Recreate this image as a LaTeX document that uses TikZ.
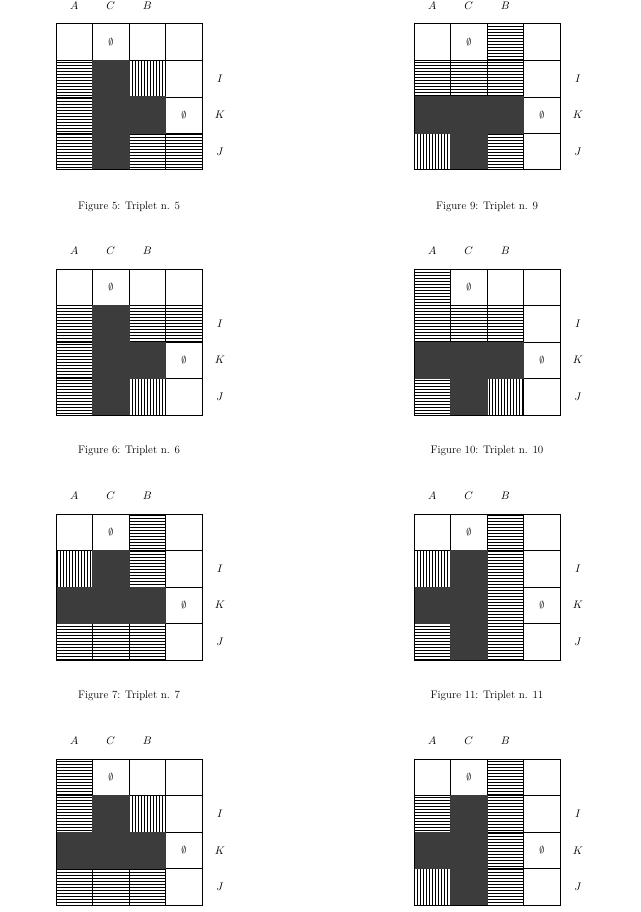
\documentclass[tikz,border=0pt]{standalone}
\usetikzlibrary{patterns}
\definecolor{dk}{HTML}{3C3C3C}
\tikzset{
  c0/.style={fill=white},
  cd/.style={fill=dk},
  ch/.style={pattern=horizontal lines},
  cv/.style={pattern=vertical lines},
  lab/.style={font=\fontsize{11}{13}\selectfont},
  capt/.style={font=\fontsize{11}{13}\selectfont},
}
\def\dd{d}
\newcommand{\tgrid}[4]{% x0, y0, name, codes
  \foreach \c [count=\i from 0] in {#4}{
    \pgfmathtruncatemacro{\col}{mod(\i,4)}
    \pgfmathtruncatemacro{\row}{int(\i/4)}
    \path[c\c] ({#1+\col*36.5},{#2+\row*36.5}) rectangle ++(36.5,36.5);
  }
  \foreach \k in {1,2,3}{
    \draw[line width=0.8pt] ({#1+\k*36.5},#2) -- ++(0,146);
    \draw[line width=0.8pt] (#1,{#2+\k*36.5}) -- ++(146,0);
  }
  \foreach \c [count=\i from 0] in {#4}{
    \pgfmathtruncatemacro{\col}{mod(\i,4)}
    \pgfmathtruncatemacro{\row}{int(\i/4)}
    \edef\cc{\c}
    \ifx\cc\dd
      \path[fill=dk,draw=dk,line width=1pt] ({#1+\col*36.5},{#2+\row*36.5}) rectangle ++(36.5,36.5);
    \fi
  }
  \draw[line width=1pt] (#1,#2) rectangle ++(146,146);
  \node (#3e1) at ({#1+54.75},{#2+18.25}) {$\emptyset$};
  \node (#3e2) at ({#1+127.75},{#2+91.25}) {$\emptyset$};
  \node[lab] (#3A) at ({#1+18.25},{#2-18}) {$A$};
  \node[lab] (#3C) at ({#1+54.75},{#2-18}) {$C$};
  \node[lab] (#3B) at ({#1+91.25},{#2-18}) {$B$};
  \node[lab] (#3I) at ({#1+164},{#2+54.75}) {$I$};
  \node[lab] (#3K) at ({#1+164},{#2+91.25}) {$K$};
  \node[lab] (#3J) at ({#1+164},{#2+127.75}) {$J$};
}
\begin{document}
\begin{tikzpicture}[x=1pt,y=-1pt]
\useasboundingbox[fill=white] (0,0) rectangle (640,912);
\tgrid{56}{24}{f5}{0,0,0,0, h,d,v,0, h,d,d,0, h,d,h,h}
\tgrid{414}{24}{f9}{0,0,h,0, h,h,h,0, d,d,d,0, v,d,h,0}
\tgrid{56}{269}{f6}{0,0,0,0, h,d,h,h, h,d,d,0, h,d,v,0}
\tgrid{414}{269}{f10}{h,0,0,0, h,h,h,0, d,d,d,0, h,d,v,0}
\tgrid{56}{514}{f7}{0,0,h,0, v,d,h,0, d,d,d,0, h,h,h,0}
\tgrid{414}{514}{f11}{0,0,h,0, v,d,h,0, d,d,h,0, h,d,h,0}
\tgrid{56}{759}{f8}{h,0,0,0, h,d,v,0, d,d,d,0, h,h,h,0}
\tgrid{414}{759}{f12}{0,0,h,0, h,d,h,0, d,d,h,0, v,d,h,0}
\node[capt] (c5) at (129,207) {Figure 5: Triplet n. 5};
\node[capt] (c9) at (487,207) {Figure 9: Triplet n. 9};
\node[capt] (c6) at (129,451) {Figure 6: Triplet n. 6};
\node[capt] (c10) at (487,451) {Figure 10: Triplet n. 10};
\node[capt] (c7) at (129,696) {Figure 7: Triplet n. 7};
\node[capt] (c11) at (487,696) {Figure 11: Triplet n. 11};
\end{tikzpicture}
\end{document}
